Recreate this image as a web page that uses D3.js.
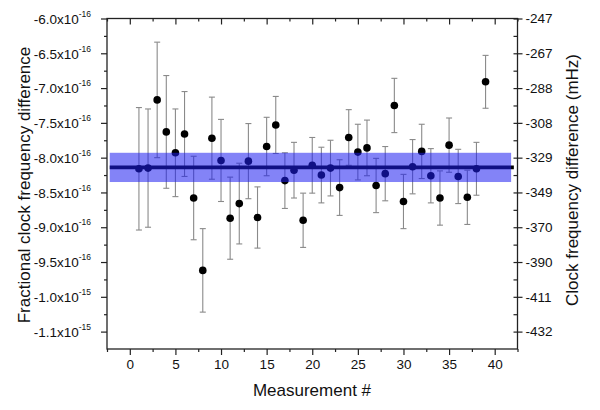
<!DOCTYPE html>
<html>
<head>
<meta charset="utf-8">
<script src="https://cdn.jsdelivr.net/npm/d3@7"></script>
<style>
  body { margin: 0; background: #fff; }
  svg { display: block; font-family: "Liberation Sans", Arial, sans-serif; }
</style>
</head>
<body>
<svg id="chart" width="600" height="410"></svg>
<script>
// measurement index
var measurements = d3.range(1, 40);

// fractional frequency difference, each point
var fractionalValues = [
  -8.16e-16, -8.15e-16, -7.17e-16, -7.63e-16, -7.93e-16, -7.66e-16, -8.58e-16, -9.62e-16,
  -7.72e-16, -8.04e-16, -8.87e-16, -8.66e-16, -8.05e-16, -8.86e-16, -7.84e-16, -7.53e-16,
  -8.33e-16, -8.18e-16, -8.90e-16, -8.11e-16, -8.25e-16, -8.15e-16, -8.43e-16, -7.71e-16,
  -7.92e-16, -7.86e-16, -8.40e-16, -8.23e-16, -7.25e-16, -8.63e-16, -8.13e-16, -7.91e-16,
  -8.26e-16, -8.58e-16, -7.82e-16, -8.27e-16, -8.57e-16, -8.16e-16, -6.91e-16
];

// 1-sigma error bar, each point
var fractionalErrors = [
  0.88e-16, 0.85e-16, 0.83e-16, 0.81e-16, 0.63e-16, 0.61e-16, 0.60e-16, 0.60e-16,
  0.59e-16, 0.59e-16, 0.59e-16, 0.58e-16, 0.54e-16, 0.44e-16, 0.42e-16, 0.41e-16,
  0.40e-16, 0.40e-16, 0.39e-16, 0.40e-16, 0.40e-16, 0.40e-16, 0.40e-16, 0.40e-16,
  0.40e-16, 0.40e-16, 0.39e-16, 0.39e-16, 0.39e-16, 0.39e-16, 0.39e-16, 0.39e-16,
  0.39e-16, 0.39e-16, 0.39e-16, 0.39e-16, 0.39e-16, 0.38e-16, 0.38e-16
];

// weighted mean and its uncertainty band
var meanValue = -8.14e-16;
var meanError = 0.21e-16;

// left axis ticks and their labels (mantissa x 10^exponent)
var leftTicks = [-6.0e-16, -6.5e-16, -7.0e-16, -7.5e-16, -8.0e-16, -8.5e-16,
  -9.0e-16, -9.5e-16, -10.0e-16, -10.5e-16];
var leftMantissa = ['-6.0', '-6.5', '-7.0', '-7.5', '-8.0', '-8.5', '-9.0', '-9.5', '-1.0', '-1.1'];
var leftExponent = ['-16', '-16', '-16', '-16', '-16', '-16', '-16', '-16', '-15', '-15'];

// right axis labels (mHz), same positions as the left ticks
var rightTickLabels = ['-247', '-267', '-288', '-308', '-329', '-349', '-370', '-390', '-411', '-432'];

// bottom axis ticks
var bottomTicks = [0, 5, 10, 15, 20, 25, 30, 35, 40];
var bottomMinorTicks = [-2.5, 2.5, 7.5, 12.5, 17.5, 22.5, 27.5, 32.5, 37.5, 42.5];

var svg = d3.select('#chart');
var plotLeft = 107, plotRight = 517.5, plotTop = 18.5, plotBottom = 349;

var x = d3.scaleLinear().domain([-2.5, 42.5]).range([plotLeft, plotRight]);
var y = d3.scaleLinear().domain([-6.0e-16, -10.75e-16]).range([plotTop, plotBottom]);

var leftMinorTicks = d3.pairs(leftTicks).map(function (p) { return (p[0] + p[1]) / 2; });

var axisColor = '#222';

function styleAxis(g) {
  g.select('.domain').remove();
  g.selectAll('.tick line').attr('stroke', axisColor).attr('stroke-width', 1.2);
}

// Data
var points = measurements.map(function (m, i) {
  return { x: m, v: fractionalValues[i], e: fractionalErrors[i] };
});

var bars = svg.append('g').attr('class', 'errorbars')
  .attr('stroke', '#8a8a8a').attr('stroke-width', 1.1).attr('fill', 'none');

bars.selectAll('line.stem').data(points).enter().append('line')
  .attr('class', 'stem')
  .attr('x1', function (d) { return x(d.x); })
  .attr('x2', function (d) { return x(d.x); })
  .attr('y1', function (d) { return y(d.v + d.e); })
  .attr('y2', function (d) { return y(d.v - d.e); });

bars.selectAll('line.capTop').data(points).enter().append('line')
  .attr('class', 'capTop')
  .attr('x1', function (d) { return x(d.x) - 3; })
  .attr('x2', function (d) { return x(d.x) + 3; })
  .attr('y1', function (d) { return y(d.v + d.e); })
  .attr('y2', function (d) { return y(d.v + d.e); });

bars.selectAll('line.capBottom').data(points).enter().append('line')
  .attr('class', 'capBottom')
  .attr('x1', function (d) { return x(d.x) - 3; })
  .attr('x2', function (d) { return x(d.x) + 3; })
  .attr('y1', function (d) { return y(d.v - d.e); })
  .attr('y2', function (d) { return y(d.v - d.e); });

svg.append('g').attr('class', 'points')
  .selectAll('circle').data(points).enter().append('circle')
  .attr('cx', function (d) { return x(d.x); })
  .attr('cy', function (d) { return y(d.v); })
  .attr('r', 3.8)
  .attr('fill', '#000');

// mean line, then translucent band on top
svg.append('line')
  .attr('x1', x(-2.2)).attr('x2', x(42.1))
  .attr('y1', y(meanValue)).attr('y2', y(meanValue))
  .attr('stroke', '#000').attr('stroke-width', 3.6);

svg.append('rect')
  .attr('x', x(-2.2))
  .attr('width', x(41.8) - x(-2.2))
  .attr('y', y(meanValue + meanError))
  .attr('height', y(meanValue - meanError) - y(meanValue + meanError))
  .attr('fill', 'rgb(30,30,240)')
  .attr('fill-opacity', 0.55);

// Axes
// frame
svg.append('rect')
  .attr('x', plotLeft).attr('y', plotTop)
  .attr('width', plotRight - plotLeft).attr('height', plotBottom - plotTop)
  .attr('fill', 'none').attr('stroke', axisColor).attr('stroke-width', 1.3);

// left
svg.append('g').attr('transform', 'translate(' + plotLeft + ',0)')
  .call(d3.axisLeft(y).tickValues(leftMinorTicks).tickSize(3).tickFormat(''))
  .call(styleAxis);

var leftAxis = svg.append('g').attr('transform', 'translate(' + plotLeft + ',0)')
  .call(d3.axisLeft(y).tickValues(leftTicks).tickSize(6).tickPadding(10))
  .call(styleAxis);

leftAxis.selectAll('.tick text').each(function (d, i) {
  var t = d3.select(this).text(null)
    .attr('fill', '#111').attr('font-size', 13.5).attr('dy', '0.35em');
  t.append('tspan').text(leftMantissa[i] + 'x10');
  t.append('tspan').text(leftExponent[i]).attr('font-size', 8.5).attr('dy', -7);
});

// right: minor ticks inside, major ticks crossing the axis
svg.append('g').attr('transform', 'translate(' + plotRight + ',0)')
  .call(d3.axisLeft(y).tickValues(leftMinorTicks).tickSize(4).tickFormat(''))
  .call(styleAxis);

svg.append('g').attr('transform', 'translate(' + plotRight + ',0)')
  .call(d3.axisLeft(y).tickValues(leftTicks).tickSize(4).tickFormat(''))
  .call(styleAxis);

svg.append('g').attr('transform', 'translate(' + plotRight + ',0)')
  .call(d3.axisRight(y).tickValues(leftTicks).tickSize(5).tickPadding(3)
    .tickFormat(function (d, i) { return rightTickLabels[i]; }))
  .call(styleAxis)
  .call(function (g) {
    g.selectAll('.tick text').attr('fill', '#111').attr('font-size', 13.5);
  });

// bottom
svg.append('g').attr('transform', 'translate(0,' + plotBottom + ')')
  .call(d3.axisBottom(x).tickValues(bottomMinorTicks).tickSize(3).tickFormat(''))
  .call(styleAxis);

svg.append('g').attr('transform', 'translate(0,' + plotBottom + ')')
  .call(d3.axisBottom(x).tickValues(bottomTicks).tickSize(6).tickPadding(4))
  .call(styleAxis)
  .call(function (g) {
    g.selectAll('.tick text').attr('fill', '#111').attr('font-size', 13.5);
  });

// top, ticks pointing in
svg.append('g').attr('transform', 'translate(0,' + plotTop + ')')
  .call(d3.axisBottom(x).tickValues(bottomMinorTicks).tickSize(3).tickFormat(''))
  .call(styleAxis);

svg.append('g').attr('transform', 'translate(0,' + plotTop + ')')
  .call(d3.axisBottom(x).tickValues(bottomTicks).tickSize(6).tickFormat(''))
  .call(styleAxis);

// Titles
svg.append('text')
  .attr('x', 312).attr('y', 396)
  .attr('text-anchor', 'middle').attr('font-size', 17).attr('fill', '#111')
  .text('Measurement #');

svg.append('text')
  .attr('transform', 'translate(30,185) rotate(-90)')
  .attr('text-anchor', 'middle').attr('font-size', 17).attr('fill', '#111')
  .text('Fractional clock frequency difference');

svg.append('text')
  .attr('transform', 'translate(578,180) rotate(-90)')
  .attr('text-anchor', 'middle').attr('font-size', 17).attr('fill', '#111')
  .text('Clock frequency difference (mHz)');
</script>
</body>
</html>
